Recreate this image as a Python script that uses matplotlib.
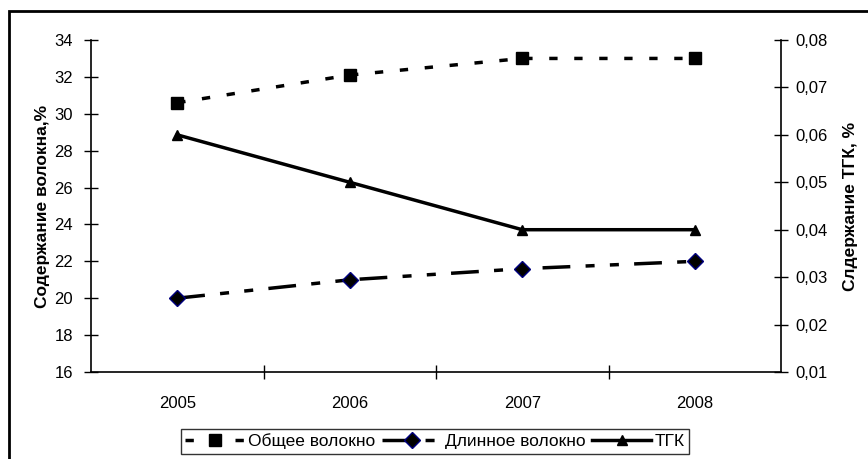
import matplotlib
matplotlib.use('Agg')
import matplotlib.pyplot as plt
from matplotlib.patches import Rectangle

plt.rcParams['font.family'] = ['Liberation Sans', 'DejaVu Sans']
plt.rcParams['lines.scale_dashes'] = False

years = ['2005', '2006', '2007', '2008']
total_fiber = [30.6, 32.1, 33.0, 33.0]
long_fiber = [20.0, 21.0, 21.6, 22.0]
thc = [0.060, 0.050, 0.040, 0.040]

left_ticks = [16, 18, 20, 22, 24, 26, 28, 30, 32, 34]
right_ticks = [0.01, 0.02, 0.03, 0.04, 0.05, 0.06, 0.07, 0.08]
right_labels = ['0,01', '0,02', '0,03', '0,04', '0,05', '0,06', '0,07', '0,08']

fig = plt.figure(figsize=(8.68, 4.59), dpi=100)
ax = fig.add_axes([91 / 868, 1 - 372 / 459, 690 / 868, 332 / 459])
ax2 = ax.twinx()

x = list(range(len(years)))
l1, = ax.plot(x, total_fiber, color='black', lw=2.5, dashes=[6, 12],
              marker='s', ms=8.5, mfc='black', mec='black', label='Общее волокно')
l2, = ax.plot(x, long_fiber, color='black', lw=2.5, dashes=[20, 11, 6.5, 11, 6.5, 11],
              marker='D', ms=8, mfc='black', mec='#000080', mew=1, label='Длинное волокно')
l3, = ax2.plot(x, thc, color='black', lw=2.5, marker='^', ms=6.5, mfc='black',
               mec='black', label='ТГК')

ax.set_xlim(-0.5, len(years) - 0.5)
ax.set_ylim(16, 34)
ax.set_yticks(left_ticks)
ax.set_xticks(x)
ax.set_xticklabels(years)
ax.set_xticks([i + 0.5 for i in x[:-1]], minor=True)
ax.tick_params(axis='x', which='major', length=0, labelsize=12, pad=17)
ax.tick_params(axis='x', which='minor', length=10, width=1, direction='inout')
ax.tick_params(axis='y', length=10, width=1, direction='inout', labelsize=12, pad=8)

ax2.set_ylim(0.01, 0.08)
ax2.set_yticks(right_ticks)
ax2.set_yticklabels(right_labels)
ax2.tick_params(axis='y', length=10, width=1, direction='inout', labelsize=12, pad=5)

for a in (ax, ax2):
    a.spines['top'].set_visible(False)
    for s in ('left', 'right', 'bottom'):
        a.spines[s].set_linewidth(1.2)
ax.spines['right'].set_visible(False)
ax2.spines['left'].set_visible(False)
ax2.spines['bottom'].set_visible(False)

ax.set_ylabel('Содержание волокна,%', fontsize=12.5, fontweight='bold', labelpad=3)
ax2.set_ylabel('Слдержание ТГК, %', fontsize=12.5, fontweight='bold', rotation=90, labelpad=11)

leg = fig.legend(handles=[l1, l2, l3], loc='center', bbox_to_anchor=(435 / 868, 1 - 441.5 / 459),
                 ncol=3, fontsize=12.5, frameon=True, fancybox=False, edgecolor='black',
                 handlelength=3.4, columnspacing=0.4, handletextpad=0.2, borderpad=0.25)
leg.get_frame().set_linewidth(1.0)

fig.add_artist(Rectangle((9 / 868, -0.2), 1.2, 1.2 - 11 / 459,
                         transform=fig.transFigure, fill=False, lw=2, edgecolor='black',
                         clip_on=False))

fig.savefig('out.png', dpi=100)
